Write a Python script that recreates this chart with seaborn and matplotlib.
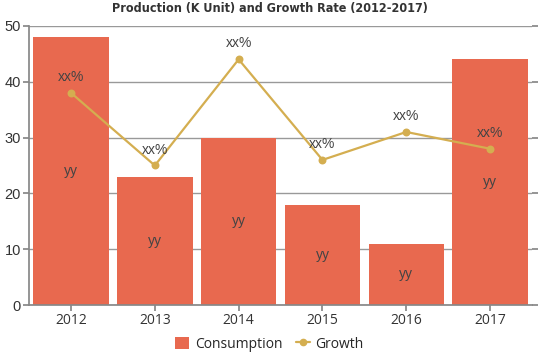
import matplotlib
matplotlib.use("Agg")
import matplotlib.pyplot as plt
import seaborn as sns
import pandas as pd
from matplotlib.patches import Patch
from matplotlib.lines import Line2D

years = ["2012", "2013", "2014", "2015", "2016", "2017"]
consumption = [48, 23, 30, 18, 11, 44]
growth = [38, 25, 44, 26, 31, 28]
bar_labels = ["yy"] * 6
point_labels = ["xx%"] * 6

sns.set_theme(style="white")
plt.rcParams['font.family'] = ['Liberation Sans', 'DejaVu Sans']

df = pd.DataFrame({"year": years, "consumption": consumption, "growth": growth})

fig = plt.figure(figsize=(5.39, 3.59), dpi=100)
ax = fig.add_axes([0.054, 0.150, 0.933, 0.778])

bar_color = "#E8694F"
line_color = "#D4AE50"

sns.barplot(data=df, x="year", y="consumption", color=bar_color, width=0.9,
            saturation=1, ax=ax, zorder=2, linewidth=0, edgecolor="none")
sns.pointplot(data=df, x="year", y="growth", color=line_color, ax=ax,
              markers="o", markersize=4.5, linewidth=1.6)
for c in ax.collections:
    c.set_zorder(4)
for l in ax.lines:
    l.set_zorder(4)

for i, (v, lab) in enumerate(zip(consumption, bar_labels)):
    ax.text(i, v / 2, lab, ha="center", va="center", fontsize=10, color="#444444", zorder=5)
for i, (v, lab) in enumerate(zip(growth, point_labels)):
    ax.text(i, v + 1.6, lab, ha="center", va="bottom", fontsize=10, color="#444444", zorder=5)

ax.set_xlim(-0.5, 5.5)
ax.set_ylim(0, 50)
ax.set_yticks([0, 10, 20, 30, 40, 50])
ax.yaxis.grid(True, color="#999999", linewidth=1)
ax.set_axisbelow(True)
ax.set_xlabel("")
ax.set_ylabel("")
for s in ["top", "right"]:
    ax.spines[s].set_visible(False)
ax.spines["left"].set_color("#888888")
ax.spines["bottom"].set_color("#888888")
ax.tick_params(axis="both", which="both", length=4, color="#888888",
               labelsize=10.5, labelcolor="#333333", left=True, bottom=True, pad=2)
ax.tick_params(axis="y", right=True)
for t in ax.get_xticklabels():
    t.set_fontfamily(["Open Sans", "DejaVu Sans"])
    t.set_fontsize(10)

fig.suptitle("Production (K Unit) and Growth Rate (2012-2017)", x=0.5, y=0.995,
             fontsize=9, fontweight="heavy", fontstretch="condensed", color="#333333",
             fontfamily=["DejaVu Sans"])

handles = [Patch(facecolor=bar_color, edgecolor="none"),
           Line2D([0], [0], color=line_color, marker="o", markersize=4.5, linewidth=1.6)]
leg = fig.legend(handles, ["Consumption", "Growth"], loc="lower center", ncol=2,
           bbox_to_anchor=(0.5, -0.015), frameon=False,
           prop={"family": ["Open Sans", "DejaVu Sans"], "size": 10},
           handlelength=1.0, handleheight=1.0, columnspacing=1.0, handletextpad=0.4)

fig.savefig("out.png", dpi=100)
